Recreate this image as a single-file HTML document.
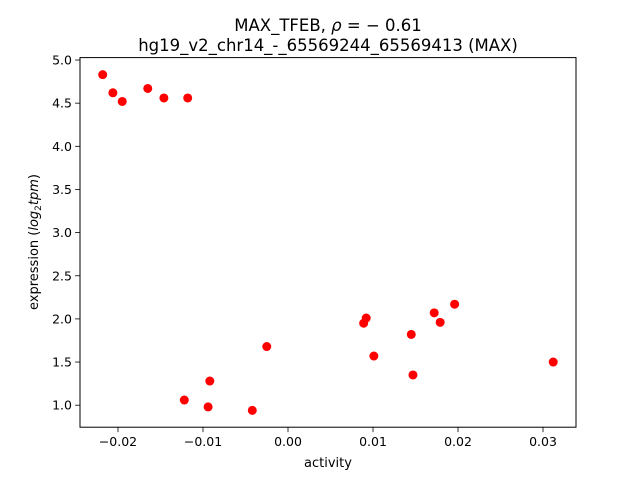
<!DOCTYPE html>
<html><head><meta charset="utf-8"><style>
html,body{margin:0;padding:0;background:#fff;}
svg{display:block;font-family:"DejaVu Sans","Liberation Sans",sans-serif;}
</style></head><body>
<svg id="chart" width="640" height="480">
<rect width="640" height="480" fill="#fff"/>
<text x="328" y="31" text-anchor="middle" font-size="16.5">MAX_TFEB, <tspan font-style="italic">ρ</tspan> = − 0.61</text>
<text x="328" y="51" text-anchor="middle" font-size="16.5">hg19_v2_chr14_-_65569244_65569413 (MAX)</text>
<g id="marks"></g>
<g id="axes"></g>
<text x="328" y="467" text-anchor="middle" font-size="13">activity</text>
<text transform="translate(38,242) rotate(-90)" text-anchor="middle" font-size="13">expression (<tspan font-style="italic">log</tspan><tspan font-size="9" dy="3">2</tspan><tspan dy="-3" font-style="italic">tpm</tspan>)</text>
</svg>
<script>
const xValues=[-0.0218,-0.0206,-0.0195,-0.0165,-0.0146,-0.0118,-0.0122,-0.0094,-0.0092,-0.0042,-0.0025,0.0089,0.0092,0.0101,0.0145,0.0147,0.0172,0.0179,0.0196,0.0312];
const yValues=[4.83,4.62,4.52,4.67,4.56,4.56,1.06,0.98,1.28,0.94,1.68,1.95,2.01,1.57,1.82,1.35,2.07,1.96,2.17,1.50];
const xTicks=[-0.02,-0.01,0.00,0.01,0.02,0.03];
const xTickLabels=["−0.02","−0.01","0.00","0.01","0.02","0.03"];
const yTicks=[1.0,1.5,2.0,2.5,3.0,3.5,4.0,4.5,5.0];
const yTickLabels=["1.0","1.5","2.0","2.5","3.0","3.5","4.0","4.5","5.0"];
const L=80,R=576,T=57.6,B=427.2;
const xMin=-0.02447,xMax=0.03388,yMin=0.745,yMax=5.028;
const sx=v=>L+(v-xMin)/(xMax-xMin)*(R-L);
const sy=v=>B-(v-yMin)/(yMax-yMin)*(B-T);
const NS="http://www.w3.org/2000/svg";
const marks=document.getElementById('marks'),axes=document.getElementById('axes');
function mk(tag,attrs,parent){const e=document.createElementNS(NS,tag);for(const k in attrs)e.setAttribute(k,attrs[k]);parent.appendChild(e);return e;}
xValues.forEach((x,i)=>{
 const c=mk('circle',{cx:sx(x),cy:sy(yValues[i]),r:4.5,fill:'#ff0000'},marks);
 
 
});
const frame=mk('rect',{x:L,y:T,width:R-L,height:B-T,fill:'none',stroke:'#000','stroke-width':1},axes);


xTicks.forEach((v,i)=>{
 const x=sx(v);
 const t=mk('line',{x1:x,x2:x,y1:B,y2:B+4.9,stroke:'#000','stroke-width':0.8},axes);
 
 
 const l=mk('text',{x:x,y:B+19,'text-anchor':'middle','font-size':'12.5'},axes);
 l.textContent=xTickLabels[i];
 
 
});
yTicks.forEach((v,i)=>{
 const y=sy(v);
 const t=mk('line',{x1:L-4.9,x2:L,y1:y,y2:y,stroke:'#000','stroke-width':0.8},axes);
 
 
 const l=mk('text',{x:L-8,y:y+4.5,'text-anchor':'end','font-size':'12.5'},axes);
 l.textContent=yTickLabels[i];
 
 
});
</script>
</body></html>
